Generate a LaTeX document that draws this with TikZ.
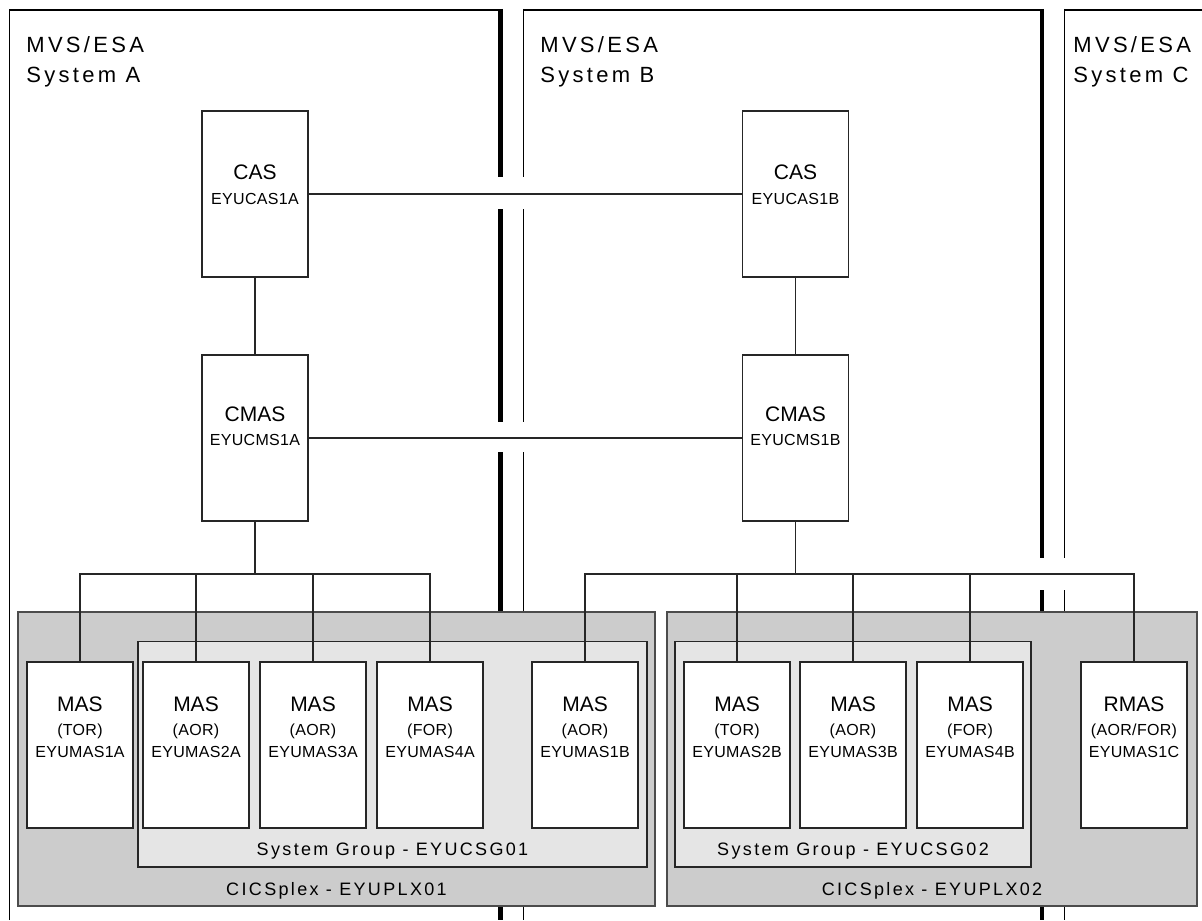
\documentclass[tikz,border=0pt]{standalone}
\usepackage{fontspec}
\setmainfont{Liberation Sans}
\usetikzlibrary{positioning}
\tikzset{
  wall/.style={line width=2.35pt},
  frameline/.style={line width=0.85pt},
  conn/.style={line width=0.6pt, draw=black!85},
  srvbox/.style={draw=black!85, line width=0.7pt, fill=white, minimum width=53pt, minimum height=83pt, inner sep=0pt},
  plexbox/.style={draw=black!70, line width=0.7pt, fill=black!20, inner sep=0pt},
  grpbox/.style={draw=black!85, line width=0.7pt, fill=black!10, inner sep=0pt},
  bigtxt/.style={anchor=base, inner sep=0pt, font=\fontsize{10.5}{12}\selectfont},
  idtxt/.style={anchor=base, inner sep=0pt, font=\fontsize{8}{9}\selectfont\addfontfeature{LetterSpace=2}},
  systxt/.style={anchor=base west, inner sep=0pt, font=\fontsize{11}{12}\selectfont\addfontfeature{LetterSpace=15}},
  grptxt/.style={anchor=base, inner sep=0pt, font=\fontsize{9}{10}\selectfont\addfontfeature{LetterSpace=13}},
}
\begin{document}
\begin{tikzpicture}[x=0.5pt, y=-0.5pt]
\useasboundingbox (0,0) rectangle (1202,920);
% the three systems
\draw[frameline] (9.5,920) -- (9.5,10) -- (501,10);
\draw[frameline] (523.5,10) -- (1043,10);
\draw[frameline] (1064.5,10) -- (1202,10);
\foreach \ya/\yb in {9/177, 209/422, 452/920} {
  \draw[wall] (500.5,\ya) -- (500.5,\yb);
  \draw[frameline] (523.5,\ya) -- (523.5,\yb);
}
\foreach \ya/\yb in {9/558, 590/920} {
  \draw[wall] (1042,\ya) -- (1042,\yb);
  \draw[frameline] (1064.5,\ya) -- (1064.5,\yb);
}
\node[systxt] (sysA1) at (26,53) {MVS/ESA};
\node[systxt] (sysA2) at (26,83) {System A};
\node[systxt] (sysB1) at (540,53) {MVS/ESA};
\node[systxt] (sysB2) at (540,83) {System B};
\node[systxt] (sysC1) at (1073,53) {MVS/ESA};
\node[systxt] (sysC2) at (1073,83) {System C};

% CICSplexes and system groups
\node[plexbox, minimum width=318.5pt, minimum height=147pt] (plex1) at (336.5,759) {};
\node[plexbox, minimum width=265pt, minimum height=147pt] (plex2) at (932,759) {};
\node[grpbox, minimum width=254.5pt, minimum height=112.7pt] (grp1) at (392.5,754.4) {};
\node[grpbox, minimum width=178pt, minimum height=112.7pt] (grp2) at (853,754.4) {};
\node[grptxt] (plex1-t) at ([yshift=5.5pt]plex1.south) {CICSplex - EYUPLX01};
\node[grptxt] (plex2-t) at ([yshift=5.5pt]plex2.south) {CICSplex - EYUPLX02};
\node[grptxt] (grp1-t) at ([yshift=6pt]grp1.south) {System Group - EYUCSG01};
\node[grptxt] (grp2-t) at ([yshift=6pt]grp2.south) {System Group - EYUCSG02};

% CAS and CMAS
\node[srvbox] (casA) at (255,194) {};
\node[srvbox] (casB) at (795.5,194) {};
\node[srvbox] (cmasA) at (255,438) {};
\node[srvbox] (cmasB) at (795.5,438) {};
\node[bigtxt] (casA-k) at ([yshift=-34.5pt]casA.north) {CAS};
\node[idtxt] (casA-id) at ([yshift=-47pt]casA.north) {EYUCAS1A};
\node[bigtxt] (casB-k) at ([yshift=-34.5pt]casB.north) {CAS};
\node[idtxt] (casB-id) at ([yshift=-47pt]casB.north) {EYUCAS1B};
\node[bigtxt] (cmasA-k) at ([yshift=-33.5pt]cmasA.north) {CMAS};
\node[idtxt] (cmasA-id) at ([yshift=-45.5pt]cmasA.north) {EYUCMS1A};
\node[bigtxt] (cmasB-k) at ([yshift=-33.5pt]cmasB.north) {CMAS};
\node[idtxt] (cmasB-id) at ([yshift=-45.5pt]cmasB.north) {EYUCMS1B};

% managed address spaces
\foreach \n/\x/\k/\r/\id in {masA1/80/MAS/TOR/EYUMAS1A, masA2/196/MAS/AOR/EYUMAS2A,
    masA3/313/MAS/AOR/EYUMAS3A, masA4/430/MAS/FOR/EYUMAS4A, masB1/585/MAS/AOR/EYUMAS1B,
    masB2/737/MAS/TOR/EYUMAS2B, masB3/853/MAS/AOR/EYUMAS3B, masB4/970/MAS/FOR/EYUMAS4B,
    rmasC/1134/RMAS/{AOR/FOR}/EYUMAS1C} {
  \node[srvbox] (\n) at (\x,745) {};
  \node[bigtxt] (\n-k) at ([yshift=-25pt]\n.north) {\k};
  \node[idtxt] (\n-r) at ([yshift=-37pt]\n.north) {(\r)};
  \node[idtxt] (\n-id) at ([yshift=-48pt]\n.north) {\id};
}

% links
\coordinate (busA) at (255,574);
\coordinate (busB) at (795.5,574);
\draw[conn] (casA) -- (casB);
\draw[conn] (cmasA) -- (cmasB);
\draw[conn] (casA) -- (cmasA);
\draw[conn] (casB) -- (cmasB);
\draw[conn] (cmasA) -- (busA);
\draw[conn] (cmasB) -- (busB);
\foreach \m in {masA1,masA2,masA3,masA4} \draw[conn] (\m) |- (busA);
\foreach \m in {masB1,masB2,masB3,masB4,rmasC} \draw[conn] (\m) |- (busB);
\end{tikzpicture}
\end{document}
